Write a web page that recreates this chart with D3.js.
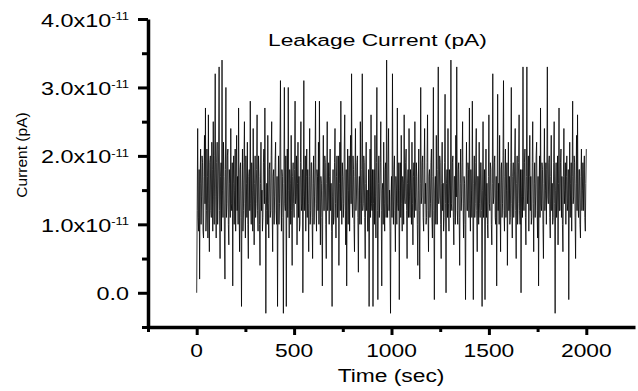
<!DOCTYPE html>
<html><head><meta charset="utf-8">
<script src="https://cdn.jsdelivr.net/npm/d3@7"></script>
<style>
body{margin:0;background:#fff}
svg{display:block}
text{font-family:"Liberation Sans",Arial,Helvetica,sans-serif;fill:#000}
</style>
</head><body>
<svg id="chart" width="638" height="391"></svg>
<script>
// ---- data (current in units of 1e-12 A, one sample every 2.5 s) ----
const timeStart = 0;
const timeStep = 2.5;
const currentE12 = [
0,12,24,11,9,18,2,16,21,10,14,20,19,9,8,17,23,13,27,9,12,21,17,8,26,13,6,19,20,12,11,22,18,9,25,14,10,20,32,14,
8,19,22,10,14,21,33,12,5,17,19,9,34,15,11,22,17,8,2,18,30,11,13,20,21,10,7,18,16,11,24,13,12,19,1,16,20,10,15,21,
9,17,23,12,17,10,27,14,6,18,19,11,-2,15,21,9,12,19,25,13,8,20,16,11,22,10,5,17,18,12,28,13,10,19,15,9,24,14,7,16,
20,11,13,18,26,12,9,20,17,10,4,16,22,12,15,9,11,19,21,13,27,14,-3,12,16,10,23,13,8,18,19,11,12,20,25,12,6,17,18,10,
14,19,22,12,10,17,-2,13,20,10,13,21,31,14,9,18,17,11,-3,16,30,13,12,20,-2,14,21,11,30,15,8,18,16,10,23,12,4,17,19,13,
11,18,28,13,14,20,7,16,22,11,17,9,10,19,25,12,13,18,0,14,31,12,15,20,9,17,21,11,18,13,6,17,24,10,12,19,19,11,5,16,
20,10,14,19,28,13,9,18,17,12,22,10,28,14,7,17,16,11,1,15,23,12,12,20,19,10,5,16,25,12,14,19,10,17,21,12,16,9,-2,14,
18,10,11,19,24,13,8,17,20,11,15,20,4,16,22,12,28,14,10,19,17,11,13,21,26,12,7,18,1,15,21,10,15,20,9,17,23,13,32,14,
11,20,18,10,6,17,24,12,14,19,20,11,3,15,17,10,25,13,10,18,32,12,13,20,19,11,5,16,22,12,15,9,9,18,-2,14,21,11,26,13,
12,18,-2,13,18,10,23,14,8,19,30,12,-1,16,20,11,14,19,25,12,1,15,16,10,22,13,9,18,19,11,34,13,11,19,24,12,15,9,-3,14,
17,11,32,14,10,18,20,12,6,17,15,10,27,13,12,19,-1,15,19,11,23,13,9,17,16,10,26,14,13,19,21,12,5,16,18,11,24,14,11,18,
15,10,22,13,7,17,19,11,25,14,12,19,17,10,4,15,21,12,2,16,30,13,14,19,20,11,9,18,24,13,16,10,11,19,26,12,6,17,18,11,
13,19,21,11,8,17,30,12,-1,15,17,10,23,13,10,18,33,13,14,20,19,10,5,16,22,12,16,9,11,19,29,13,0,16,18,11,24,13,9,18,
15,11,34,13,12,19,20,11,7,17,17,10,23,14,33,12,10,18,19,11,4,16,21,12,14,19,25,13,8,17,16,10,-1,15,22,12,12,19,18,11,
27,13,9,18,15,11,28,14,-1,16,20,11,13,19,24,12,6,17,17,10,22,13,11,19,19,12,-2,15,25,11,14,18,-1,14,21,11,16,10,8,17,
26,13,12,19,18,10,7,16,32,13,14,19,20,11,10,17,1,15,29,12,16,10,23,13,6,18,19,11,13,20,31,12,9,17,21,11,15,19,4,15,
22,12,17,10,11,19,30,13,8,17,19,11,14,20,24,12,5,16,20,10,13,19,26,12,10,18,0,14,18,11,33,14,12,19,21,11,7,17,33,13,
15,20,9,17,23,12,17,10,11,19,25,13,6,16,19,11,14,20,22,12,8,17,1,15,20,11,27,13,12,19,18,10,5,16,24,12,15,19,10,18,
33,14,13,19,20,11,8,17,23,12,16,10,11,19,25,13,-3,15,19,11,14,20,7,16,27,12,12,19,21,11,17,10,6,17,24,13,15,19,10,17,
20,12,13,18,-1,14,22,11,16,19,9,17,28,13,14,20,19,11,5,16,23,12,26,13,11,18,18,10,8,17,21,12,15,19,12,18,20,11,9,16,
21
];
const xTickValues = [0, 500, 1000, 1500, 2000];
const xMinorValues = [-250, 250, 750, 1250, 1750];
const yTickValues = [0, 1e-11, 2e-11, 3e-11, 4e-11];
const yTickMantissa = ["0.0", "1.0x10", "2.0x10", "3.0x10", "4.0x10"];
const yTickExponent = ["", "-11", "-11", "-11", "-11"];
const yMinorValues = [-0.5e-11, 0.5e-11, 1.5e-11, 2.5e-11, 3.5e-11];
const titleText = "Leakage Current (pA)";
const xTitleText = "Time (sec)";
const yTitleText = "Current (pA)";

// ---- scales ----
const svg = d3.select("#chart");
const x = d3.scaleLinear().domain([-250, 2250]).range([148, 635]);
const y = d3.scaleLinear().domain([-0.5e-11, 4e-11]).range([327, 19]);

// ---- data line ----
const line = d3.line()
  .x((d, i) => x(timeStart + i * timeStep))
  .y(d => y(d * 1e-12));
svg.append("path")
  .datum(currentE12)
  .attr("d", line)
  .attr("fill", "none")
  .attr("stroke", "#000")
  .attr("stroke-width", 0.8)
  .attr("stroke-linejoin", "bevel");

// ---- axes ----
function styleAxis(g, w) {
  g.selectAll("path").attr("stroke", "#000").attr("stroke-width", w);
  g.selectAll("line").attr("stroke", "#000").attr("stroke-width", 3);
  g.selectAll("text").remove();
}
const gx = svg.append("g").attr("transform", "translate(0,327)");
gx.call(d3.axisBottom(x).tickValues(xTickValues).tickSize(8).tickSizeOuter(0).tickFormat(""));
styleAxis(gx, 3.5);
const gxm = svg.append("g").attr("transform", "translate(0,327)");
gxm.call(d3.axisBottom(x).tickValues(xMinorValues).tickSize(5).tickSizeOuter(0).tickFormat(""));
gxm.select(".domain").remove();
styleAxis(gxm, 3.5);

const gy = svg.append("g").attr("transform", "translate(148,0)");
gy.call(d3.axisLeft(y).tickValues(yTickValues).tickSize(10).tickSizeOuter(0).tickFormat(""));
styleAxis(gy, 3.5);
const gym = svg.append("g").attr("transform", "translate(148,0)");
gym.call(d3.axisLeft(y).tickValues(yMinorValues).tickSize(6).tickSizeOuter(0).tickFormat(""));
gym.select(".domain").remove();
styleAxis(gym, 3.5);

// ---- tick labels ----
xTickValues.forEach(v => {
  svg.append("g").attr("transform", `translate(${x(v)},357)`)
    .append("text").attr("transform", "scale(1.2,1)")
    .attr("text-anchor", "middle").attr("font-size", 19).text(v);
});
yTickValues.forEach((v, i) => {
  const t = svg.append("g").attr("transform", `translate(129,${y(v) + 7.5})`)
    .append("text").attr("transform", "scale(1.3,1)")
    .attr("text-anchor", "end").attr("font-size", 18);
  t.append("tspan").text(yTickMantissa[i]);
  if (yTickExponent[i]) {
    t.append("tspan").attr("font-size", 10).attr("dy", -6.5).text(yTickExponent[i]);
  }
});

// ---- titles ----
svg.append("g").attr("transform", "translate(268,45.5)")
  .append("text").attr("transform", "scale(1.34,1)")
  .attr("font-size", 17).text(titleText);
svg.append("g").attr("transform", "translate(391,382)")
  .append("text").attr("transform", "scale(1.2,1)")
  .attr("text-anchor", "middle").attr("font-size", 19).text(xTitleText);
svg.append("text").attr("transform", "translate(27,155) rotate(-90)")
  .attr("text-anchor", "middle").attr("font-size", 15.5).text(yTitleText);
</script>
</body></html>
